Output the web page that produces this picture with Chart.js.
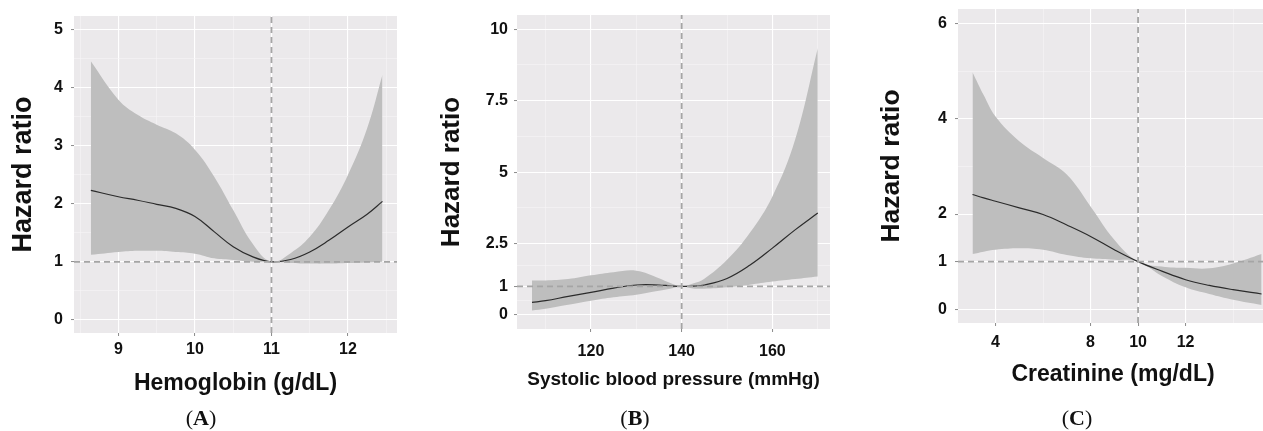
<!DOCTYPE html>
<html>
<head>
<meta charset="utf-8">
<script src="https://cdn.jsdelivr.net/npm/chart.js@4.4.0/dist/chart.umd.min.js"></script>
<style>
  html, body { margin: 0; padding: 0; background: #fff; overflow: hidden; }
  #wrap { position: relative; width: 1263px; height: 431px; overflow: hidden; }
  canvas { position: absolute; top: 0; }
  .tag { position: absolute; top: 418px; transform: translate(-50%, -50%); font-family: "Liberation Serif", "DejaVu Serif", serif; font-size: 22px; line-height: 1; color: #111; white-space: nowrap; }
</style>
</head>
<body>
<div id="wrap">
  <canvas id="chA" width="420" height="431" style="left:0px"></canvas>
  <canvas id="chB" width="420" height="431" style="left:420px"></canvas>
  <canvas id="chC" width="430" height="431" style="left:840px"></canvas>
  <div class="tag" style="left:201px">(<b>A</b>)</div>
  <div class="tag" style="left:635px">(<b>B</b>)</div>
  <div class="tag" style="left:1077px">(<b>C</b>)</div>
</div>
<script>
// (A) hemoglobin
const hbX     = [8.64, 9, 9.25, 9.5, 9.75, 10, 10.25, 10.5, 10.75, 11, 11.25, 11.5, 11.75, 12, 12.25, 12.45];
const hbHR    = [2.23, 2.12, 2.06, 1.99, 1.92, 1.78, 1.52, 1.26, 1.09, 1.0, 1.04, 1.17, 1.37, 1.6, 1.82, 2.04];
const hbUpper = [4.45, 3.79, 3.53, 3.36, 3.21, 2.93, 2.47, 1.89, 1.32, 1.0, 1.15, 1.43, 1.89, 2.5, 3.3, 4.22];
const hbLower = [1.12, 1.17, 1.19, 1.19, 1.17, 1.14, 1.06, 1.03, 1.0, 1.0, 0.98, 0.97, 0.97, 0.98, 0.99, 1.0];
const hbRef = 11;
const hbXTicks = [9, 10, 11, 12];
const hbXMinor = [8.5, 9.5, 10.5, 11.5, 12.5];
const hbYTicks = [0, 1, 2, 3, 4, 5];
const hbYMinor = [0.5, 1.5, 2.5, 3.5, 4.5];

// (B) systolic blood pressure
const sbpX     = [107, 110, 115, 120, 125, 130, 135, 137.5, 140, 142.5, 145, 150, 155, 160, 165, 170];
const sbpHR    = [0.44, 0.5, 0.65, 0.79, 0.94, 1.05, 1.05, 1.02, 1.0, 1.01, 1.05, 1.28, 1.74, 2.34, 2.98, 3.57];
const sbpUpper = [1.21, 1.21, 1.26, 1.39, 1.5, 1.55, 1.29, 1.12, 1.0, 1.1, 1.27, 1.93, 2.87, 4.15, 6.13, 9.34];
const sbpLower = [0.16, 0.22, 0.36, 0.5, 0.62, 0.71, 0.85, 0.92, 1.0, 0.93, 0.92, 0.97, 1.06, 1.17, 1.26, 1.35];
const sbpRef = 140;
const sbpXTicks = [120, 140, 160];
const sbpXMinor = [110, 130, 150, 170];
const sbpYTicks = [0, 1, 2.5, 5, 7.5, 10];
const sbpYMinor = [0.5, 1.75, 3.75, 6.25, 8.75];

// (C) creatinine
const crX     = [3.03, 3.5, 4, 5, 6, 7, 8, 9, 10, 11, 12, 13, 14, 15.2];
const crHR    = [2.41, 2.34, 2.27, 2.13, 1.99, 1.77, 1.53, 1.25, 1.0, 0.8, 0.62, 0.5, 0.41, 0.32];
const crUpper = [4.98, 4.5, 4.05, 3.53, 3.18, 2.83, 2.16, 1.46, 1.0, 0.9, 0.87, 0.86, 0.96, 1.16];
const crLower = [1.16, 1.21, 1.25, 1.28, 1.25, 1.14, 1.07, 1.04, 1.0, 0.7, 0.46, 0.32, 0.2, 0.09];
const crRef = 10;
const crXTicks = [4, 8, 10, 12];
const crXMinor = [6, 14];
const crYTicks = [0, 1, 2, 4, 6];
const crYMinor = [3, 5];

const SANS = '"Liberation Sans", Arial, sans-serif';
const BAND = '#bebebe';
const DASH = '#a5a5a5';
const PANEL_BG = '#ebe9eb';

const near = (arr, v) => arr.some(t => Math.abs(t - v) < 1e-6);
const pts = (xs, ys) => xs.map((x, i) => ({ x: x, y: ys[i] }));

const panelBg = {
  id: 'panelBg',
  beforeDraw(chart) {
    const a = chart.chartArea;
    chart.ctx.save();
    chart.ctx.fillStyle = PANEL_BG;
    chart.ctx.fillRect(a.left, a.top, a.right - a.left, a.bottom - a.top);
    chart.ctx.restore();
  }
};

function axis(o) {
  const all = o.major.concat(o.minor).sort((a, b) => a - b);
  return {
    type: 'linear',
    min: o.min,
    max: o.max,
    bounds: 'data',
    afterBuildTicks: s => { s.ticks = all.map(v => ({ value: v })); },
    afterFit: s => {
      if (o.width !== undefined) s.width = o.width;
      if (o.height !== undefined) s.height = o.height;
      s.paddingTop = 0; s.paddingBottom = 0; s.paddingLeft = 0; s.paddingRight = 0;
    },
    ticks: {
      autoSkip: false, maxRotation: 0, minRotation: 0,
      padding: o.pad,
      color: '#111',
      font: { family: SANS, size: 16, weight: 'bold' },
      callback: v => near(o.major, v) ? String(v) : ''
    },
    grid: {
      color: c => near(o.major, c.tick.value) ? '#ffffff' : '#f6f5f6',
      lineWidth: c => near(o.major, c.tick.value) ? 1.1 : 0.6,
      tickColor: c => near(o.major, c.tick.value) ? '#8a8a8a' : 'rgba(0,0,0,0)',
      tickLength: 3,
      tickWidth: 1
    },
    border: { display: false },
    title: {
      display: true, text: o.title, color: '#111',
      font: { family: SANS, size: o.titleSize, weight: 'bold' },
      padding: o.titlePad
    }
  };
}

function panel(id, d) {
  new Chart(document.getElementById(id), {
    type: 'line',
    data: {
      datasets: [
        { data: [{ x: d.xMin, y: 1 }, { x: d.xMax, y: 1 }], borderColor: DASH, borderWidth: 1.8, borderDash: [6, 4] },
        { data: [{ x: d.ref, y: d.yMin }, { x: d.ref, y: d.yMax }], borderColor: DASH, borderWidth: 1.8, borderDash: [6, 4] },
        { data: pts(d.x, d.hr), borderColor: '#2b2b2b', borderWidth: 1.2, tension: 0.4 },
        { data: pts(d.x, d.upper), borderColor: 'rgba(0,0,0,0)', borderWidth: 1, backgroundColor: BAND, fill: '+1', tension: 0.4 },
        { data: pts(d.x, d.lower), borderColor: 'rgba(0,0,0,0)', borderWidth: 1, tension: 0.4 }
      ]
    },
    options: {
      responsive: false,
      animation: false,
      events: [],
      layout: { padding: { left: 0, top: d.top, right: d.padRight, bottom: 0 } },
      elements: { point: { radius: 0 } },
      plugins: { legend: { display: false }, tooltip: { enabled: false } },
      scales: {
        x: axis({ min: d.xMin, max: d.xMax, major: d.xTicks, minor: d.xMinor, pad: d.xPad,
                  height: 431 - d.bottom, title: d.xTitle, titleSize: d.xTitleSize,
                  titlePad: { top: 0, bottom: d.xTitlePad } }),
        y: axis({ min: d.yMin, max: d.yMax, major: d.yTicks, minor: d.yMinor, pad: d.yPad,
                  width: d.left, title: 'Hazard ratio', titleSize: d.yTitleSize,
                  titlePad: { top: d.yTitlePad, bottom: 0 } })
      }
    },
    plugins: [panelBg]
  });
}

panel('chA', {
  x: hbX, hr: hbHR, upper: hbUpper, lower: hbLower, ref: hbRef,
  xTicks: hbXTicks, xMinor: hbXMinor, yTicks: hbYTicks, yMinor: hbYMinor,
  xMin: 8.42, xMax: 12.64, yMin: -0.224, yMax: 5.229,
  left: 74, top: 16, padRight: 23, bottom: 333,
  xPad: 4, yPad: 8, xTitle: 'Hemoglobin (g/dL)', xTitleSize: 23, xTitlePad: 34,
  yTitleSize: 27, yTitlePad: 7
});

panel('chB', {
  x: sbpX, hr: sbpHR, upper: sbpUpper, lower: sbpLower, ref: sbpRef,
  xTicks: sbpXTicks, xMinor: sbpXMinor, yTicks: sbpYTicks, yMinor: sbpYMinor,
  xMin: 103.7, xMax: 172.7, yMin: -0.49, yMax: 10.5,
  left: 97, top: 15, padRight: 10, bottom: 329,
  xPad: 10, yPad: 6, xTitle: 'Systolic blood pressure (mmHg)', xTitleSize: 19, xTitlePad: 40,
  yTitleSize: 26, yTitlePad: 16
});

panel('chC', {
  x: crX, hr: crHR, upper: crUpper, lower: crLower, ref: crRef,
  xTicks: crXTicks, xMinor: crXMinor, yTicks: crYTicks, yMinor: crYMinor,
  xMin: 2.42, xMax: 15.47, yMin: -0.29, yMax: 6.31,
  left: 118, top: 9, padRight: 2, bottom: 323,
  xPad: 7, yPad: 8, xTitle: 'Creatinine (mg/dL)', xTitleSize: 23, xTitlePad: 43,
  yTitleSize: 26.5, yTitlePad: 36
});
</script>
</body>
</html>
